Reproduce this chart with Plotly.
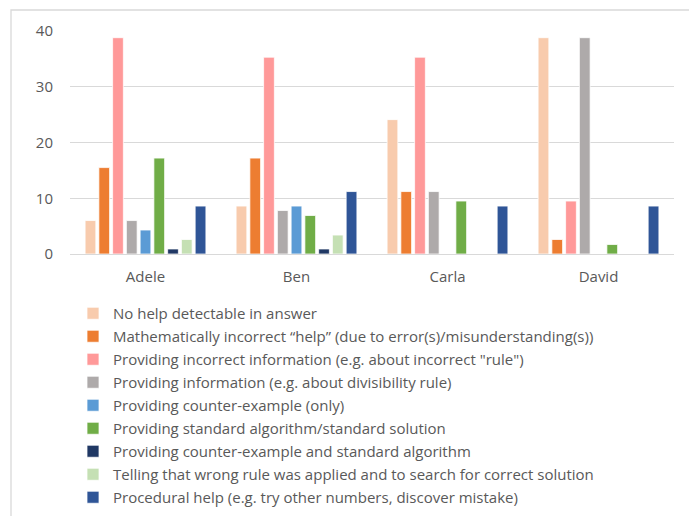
import plotly.graph_objects as go

# Share of answers (%) per student, by kind of help offered
students = ["Adele", "Ben", "Carla", "David"]

categories = [
    "No help detectable in answer",
    "Mathematically incorrect \u201chelp\u201d (due to error(s)/misunderstanding(s))",
    "Providing incorrect information (e.g. about incorrect \"rule\")",
    "Providing information (e.g. about divisibility rule)",
    "Providing counter-example (only)",
    "Providing standard algorithm/standard solution",
    "Providing counter-example and standard algorithm",
    "Telling that wrong rule was applied and to search for correct solution",
    "Procedural help (e.g. try other numbers, discover mistake)",
]

no_help = [6.0, 8.6, 24.1, 38.8]
math_incorrect = [15.5, 17.2, 11.2, 2.6]
incorrect_info = [38.8, 35.3, 35.3, 9.5]
information = [6.0, 7.8, 11.2, 38.8]
counter_example = [4.3, 8.6, 0, 0]
standard_algorithm = [17.2, 6.9, 9.5, 1.7]
counter_and_standard = [0.9, 0.9, 0, 0]
wrong_rule_search = [2.6, 3.4, 0, 0]
procedural = [8.6, 11.2, 8.6, 8.6]

series = [no_help, math_incorrect, incorrect_info, information, counter_example,
          standard_algorithm, counter_and_standard, wrong_rule_search, procedural]

colors = ["#F8CBAD", "#ED7D31", "#FF9999", "#AEAAAA", "#5B9BD5",
          "#70AD47", "#203864", "#C5E0B4", "#2F5597"]

y_ticks = [0, 10, 20, 30, 40]

FONT = "Open Sans"
TEXT = "#595959"

fig = go.Figure()
for i, (name, vals, col) in enumerate(zip(categories, series, colors)):
    fig.add_trace(go.Bar(
        x=students, y=vals, name=name, legendgroup=f"g{i}",
        marker=dict(color=col, line=dict(color="white", width=0.75)),
    ))

W, H = 689, 516
L, R, T, B = 70, 15, 31, 262
pw, ph = W - L - R, H - T - B

# light chart-area frame (left and top edges sit inside the page)
fig.add_shape(type="rect", xref="paper", yref="paper",
              x0=(11 - L) / pw, x1=(W + 5 - L) / pw,
              y0=-(H + 5 - (H - B)) / ph, y1=((H - B) - 10) / ph,
              line=dict(color="#D9D9D9", width=1.3), fillcolor="rgba(0,0,0,0)",
              layer="below")

fig.update_layout(
    width=W, height=H,
    margin=dict(l=L, r=R, t=T, b=B, autoexpand=False),
    paper_bgcolor="white", plot_bgcolor="white",
    barmode="group", bargap=0.18, bargroupgap=0.22,
    font=dict(family=FONT, size=15, color=TEXT),
    showlegend=True,
    legend=dict(
        orientation="v", traceorder="grouped",
        x=(73 - L) / pw, xanchor="left",
        y=-(297 - (H - B)) / ph, yanchor="top",
        font=dict(family=FONT, size=15, color=TEXT),
        itemwidth=30, tracegroupgap=0.5,
        bgcolor="rgba(0,0,0,0)",
    ),
    xaxis=dict(showgrid=False, showline=False, ticks="",
               ticklabelstandoff=12,
               tickfont=dict(size=15, color=TEXT)),
    yaxis=dict(range=[0, 40], tickvals=y_ticks, showgrid=True,
               gridcolor="#D9D9D9", gridwidth=1, zeroline=True,
               zerolinecolor="#D9D9D9", zerolinewidth=1, showline=False,
               ticks="", ticklabelstandoff=16,
               tickfont=dict(size=15, color=TEXT)),
)

fig.write_html("out.html")
